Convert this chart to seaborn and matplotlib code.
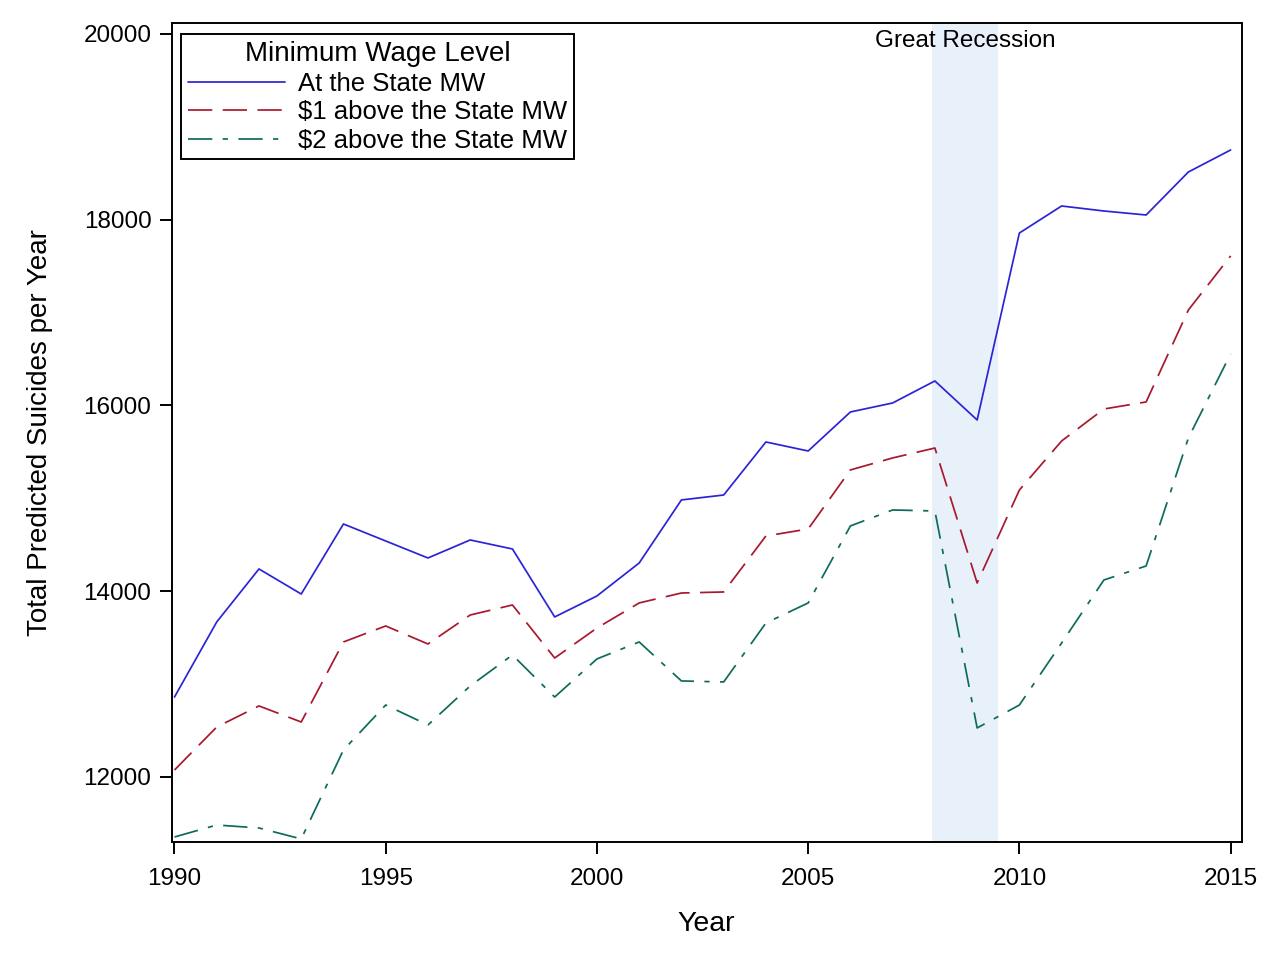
import numpy as np
import pandas as pd
import matplotlib.pyplot as plt
import seaborn as sns

years = list(range(1990, 2016))

at_state_mw = [12861, 13669, 14240, 13970, 14724, 14541, 14358, 14552, 14455, 13723,
               13949, 14304, 14983, 15036, 15607, 15510, 15930, 16027, 16264, 15844,
               17857, 18148, 18094, 18051, 18514, 18751]
above_1 = [12075, 12538, 12765, 12592, 13454, 13626, 13432, 13744, 13852, 13281,
           13604, 13874, 13981, 13992, 14595, 14670, 15306, 15435, 15542, 14089,
           15090, 15618, 15962, 16038, 17028, 17610]
above_2 = [11354, 11483, 11451, 11333, 12291, 12775, 12560, 12980, 13314, 12861,
           13271, 13454, 13034, 13023, 13658, 13874, 14703, 14875, 14864, 12528,
           12775, 13443, 14121, 14272, 15650, 16555]

series_names = ["At the State MW", "$1 above the State MW", "$2 above the State MW"]
recession = (2007.92, 2009.5)

df = pd.DataFrame({
    "Year": years * 3,
    "Suicides": at_state_mw + above_1 + above_2,
    "Level": [series_names[0]] * 26 + [series_names[1]] * 26 + [series_names[2]] * 26,
})

sns.set_style("ticks")
plt.rcParams["font.family"] = ["Liberation Sans", "DejaVu Sans"]
plt.rcParams["text.color"] = "black"
plt.rcParams["axes.labelcolor"] = "black"
plt.rcParams["xtick.color"] = "black"
plt.rcParams["ytick.color"] = "black"

fig = plt.figure(figsize=(12.8, 9.59), dpi=100)
ax = fig.add_axes([0.134, 0.122, 0.836, 0.854])

ax.axvspan(recession[0], recession[1], color="#e8f0f9", zorder=0, lw=0)

palette = {series_names[0]: "#2b24d6", series_names[1]: "#a8182e", series_names[2]: "#0d6b5b"}
dashes = {series_names[0]: "", series_names[1]: (14, 6), series_names[2]: (14, 6, 3, 6)}

sns.lineplot(data=df, x="Year", y="Suicides", hue="Level", style="Level",
             palette=palette, dashes=dashes, linewidth=1.25, ax=ax, zorder=2)

ax.set_xlim(1989.93, 2015.26)
ax.set_ylim(11300, 20118)
ax.set_xticks([1990, 1995, 2000, 2005, 2010, 2015])
ax.set_yticks([12000, 14000, 16000, 18000, 20000])
ax.tick_params(axis="both", labelsize=17.5, length=8.5, width=1.4, direction="out")
ax.tick_params(axis="x", pad=10)
ax.tick_params(axis="y", pad=6)
for s in ax.spines.values():
    s.set_linewidth(1.4)
    s.set_color("black")

ax.set_xlabel("Year", fontsize=20.5, labelpad=15)
ax.set_ylabel("Total Predicted Suicides per Year", fontsize=20, labelpad=22)

ax.text(np.mean(recession), 20045, "Great Recession", ha="center", va="top", fontsize=17.5)

leg = ax.legend(title="Minimum Wage Level", loc="upper left", fontsize=18.5, title_fontsize=20,
                frameon=True, fancybox=False, edgecolor="black", handlelength=3.8,
                borderpad=0.25, labelspacing=0.18, handletextpad=0.5,
                bbox_to_anchor=(0.009, 0.986), borderaxespad=0)
leg.get_frame().set_linewidth(1.4)
leg.get_frame().set_alpha(1)

plt.savefig("out.png", dpi=100)
